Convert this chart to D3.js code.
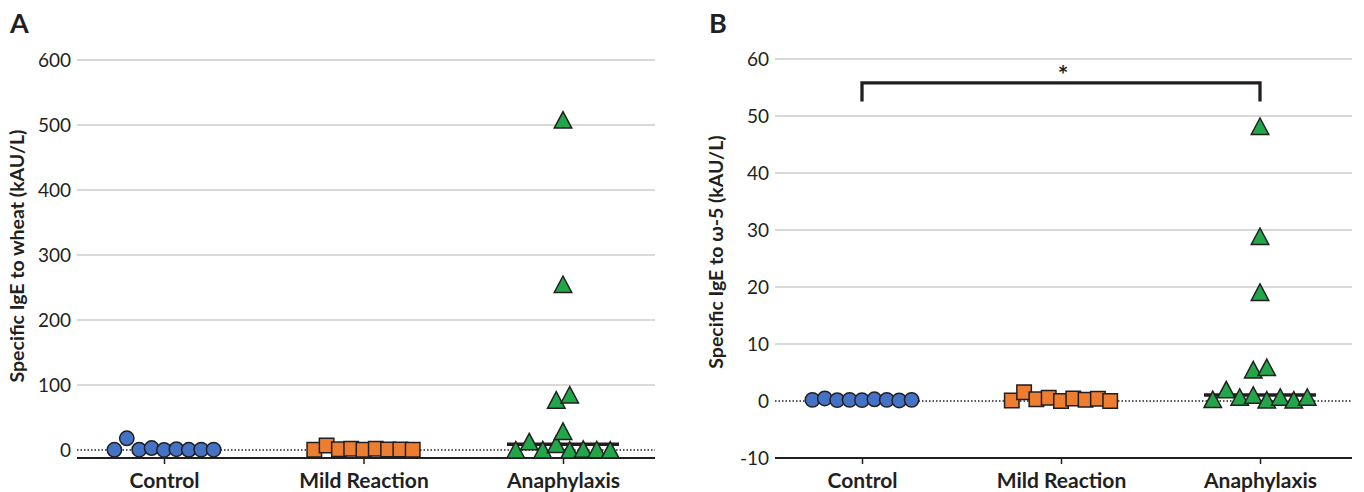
<!DOCTYPE html>
<html>
<head>
<meta charset="utf-8">
<script src="https://cdn.jsdelivr.net/npm/d3@7"></script>
<style>
  html, body { margin: 0; padding: 0; background: #ffffff; }
  svg { display: block; }
  text { font-family: Lato, "Open Sans", sans-serif; fill: #231f20; }
</style>
</head>
<body>
<svg id="chart" width="1364" height="492"></svg>
<script>
// ---------------- DATA ----------------
const categories = ["Control", "Mild Reaction", "Anaphylaxis"];

// Panel A: specific IgE to wheat (kAU/L), listed left-to-right as plotted
const wheatControl = [0.3, 18, 0.4, 3, 0.1, 1.2, 0.3, 0.6, 0.5];
const wheatMild    = [0.5, 7, 1, 2, 0.2, 2, 0.8, 0.6, 0.4];
const wheatAnaph   = [0.4, 13, 0.5, 9, 77, 508, 255, 29, 0.2, 85, 1.5, 0.8, 0.3];
const wheatTicks   = [0, 100, 200, 300, 400, 500, 600];

// Panel B: specific IgE to omega-5 gliadin (kAU/L)
const omegaControl = [0.2, 0.45, 0.15, 0.2, 0.15, 0.3, 0.2, 0.1, 0.2];
const omegaMild    = [0.1, 1.55, 0.3, 0.55, 0, 0.45, 0.2, 0.4, 0];
const omegaAnaph   = [0.3, 2.0, 0.7, 1.05, 5.5, 48.2, 28.9, 19.1, 0.2, 5.9, 0.7, 0.2, 0.7];
const omegaTicks   = [-10, 0, 10, 20, 30, 40, 50, 60];

// significance annotation on panel B
const omegaSignif = [{ from: "Control", to: "Anaphylaxis", label: "*", level: 55.8 }];

// ---------------- LAYOUT / STYLE ----------------
const colors = { "Control": "#4472c4", "Mild Reaction": "#ed7d31", "Anaphylaxis": "#22a64a" };
const ink = "#231f20";

const panels = [
  {
    letter: "A", letterX: 10,
    title: "Specific IgE to wheat (kAU/L)", titleX: 24, titleY: 256,
    x0: 77, x1: 655, yMin: -12.3, yMax: 600, yTop: 60, yBot: 458,
    ticks: wheatTicks,
    series: [wheatControl, wheatMild, wheatAnaph],
    signif: []
  },
  {
    letter: "B", letterX: 709,
    title: "Specific IgE to \u03c9-5 (kAU/L)", titleX: 723, titleY: 252,
    x0: 775, x1: 1352, yMin: -10, yMax: 60, yTop: 59, yBot: 458,
    ticks: omegaTicks,
    series: [omegaControl, omegaMild, omegaAnaph],
    signif: omegaSignif
  }
];

const svg = d3.select("#chart");

// marker shape generators (centered at 0,0)
function markerPath(cat) {
  if (cat === "Control") {
    const r = 7.2;
    return `M${-r},0A${r},${r} 0 1,0 ${r},0A${r},${r} 0 1,0 ${-r},0Z`;
  } else if (cat === "Mild Reaction") {
    const s = 14.5 / 2;
    return `M${-s},${-s}H${s}V${s}H${-s}Z`;
  } else {
    const w = 17.5 / 2, h = 16.5 / 2;
    return `M0,${-h}L${w},${h}L${-w},${h}Z`;
  }
}
const spacing = { "Control": 12.4, "Mild Reaction": 12.3, "Anaphylaxis": 13.5 };

// Prism-like column scatter: points whose pixel heights are close share a row,
// each row is spread symmetrically around the category position.
function columnScatter(values, y, step, threshold) {
  const items = values.map((v, i) => ({ v, i, py: y(v) }));
  const sorted = items.slice().sort((a, b) => b.py - a.py);
  const rows = [];
  let cur = null;
  sorted.forEach(it => {
    if (cur && cur.base - it.py <= threshold) cur.items.push(it);
    else { cur = { base: it.py, items: [it] }; rows.push(cur); }
  });
  rows.forEach(row => {
    row.items.sort((a, b) => a.i - b.i);
    const n = row.items.length;
    row.items.forEach((it, k) => { it.dx = (k - (n - 1) / 2) * step; });
  });
  return items;
}

panels.forEach(p => {
  const g = svg.append("g");
  const x = d3.scalePoint().domain(categories).range([p.x0 + 87, p.x1 - 92]);
  const y = d3.scaleLinear().domain([p.yMin, p.yMax]).range([p.yBot, p.yTop]);

  // panel letter
  g.append("text").attr("x", p.letterX).attr("y", 33)
    .attr("font-size", 27).attr("font-weight", 700).text(p.letter);

  // y axis title
  g.append("text")
    .attr("transform", `translate(${p.titleX},${p.titleY}) rotate(-90)`)
    .attr("text-anchor", "middle").attr("font-size", 19.5).attr("font-weight", 700)
    .text(p.title);

  // gridlines (above zero), zero dotted line
  const gridTicks = p.ticks.filter(t => t > 0);
  g.append("g").selectAll("line").data(gridTicks).join("line")
    .attr("x1", p.x0).attr("x2", p.x1)
    .attr("y1", d => y(d)).attr("y2", d => y(d))
    .attr("stroke", "#d9d9d9").attr("stroke-width", 2);

  g.append("line")
    .attr("x1", p.x0).attr("x2", p.x1).attr("y1", y(0)).attr("y2", y(0))
    .attr("stroke", ink).attr("stroke-width", 1.3).attr("stroke-dasharray", "1.5,2");

  // y tick labels via d3 axis
  const yAxis = d3.axisLeft(y).tickValues(p.ticks).tickSize(0).tickPadding(6)
    .tickFormat(d => d < 0 ? "-" + Math.abs(d) : String(d));
  const ya = g.append("g").attr("transform", `translate(${p.x0},0)`).call(yAxis);
  ya.select(".domain").remove();
  ya.selectAll("text").attr("font-size", 19).attr("font-family", "Lato, sans-serif")
    .attr("fill", ink);

  // bottom axis with category ticks
  const xAxis = d3.axisBottom(x).tickSize(6).tickPadding(9).tickSizeOuter(0);
  const xa = g.append("g").attr("transform", `translate(0,${p.yBot})`).call(xAxis);
  xa.select(".domain").remove();
  xa.append("line").attr("x1", p.x0).attr("x2", p.x1).attr("y1", 0).attr("y2", 0)
    .attr("stroke", ink).attr("stroke-width", 2);
  xa.selectAll(".tick line").attr("stroke", ink).attr("stroke-width", 1.5);
  xa.selectAll("text").attr("font-size", 21).attr("font-weight", 700)
    .attr("font-family", "Lato, sans-serif").attr("fill", ink);

  // median bar for the anaphylaxis group
  const anaph = p.series[2];
  const med = d3.median(anaph);
  g.append("line")
    .attr("x1", x("Anaphylaxis") - 56).attr("x2", x("Anaphylaxis") + 56)
    .attr("y1", y(med)).attr("y2", y(med))
    .attr("stroke", ink).attr("stroke-width", 3.5);

  // points
  categories.forEach((cat, ci) => {
    const pts = columnScatter(p.series[ci], y, spacing[cat], 15);
    g.append("g").selectAll("path").data(pts).join("path")
      .attr("d", markerPath(cat))
      .attr("transform", d => `translate(${x(cat) + d.dx},${d.py})`)
      .attr("fill", colors[cat]).attr("stroke", ink).attr("stroke-width", 1.5)
      .attr("stroke-linejoin", "miter");
  });

  // significance brackets
  p.signif.forEach(s => {
    const yb = y(s.level);
    const xa1 = x(s.from), xa2 = x(s.to);
    g.append("path")
      .attr("d", `M${xa1},${yb + 18.5}V${yb}H${xa2}V${yb + 18.5}`)
      .attr("fill", "none").attr("stroke", ink).attr("stroke-width", 3.3)
      .attr("stroke-linejoin", "miter");
    g.append("text").attr("x", (xa1 + xa2) / 2 + 2).attr("y", yb + 1)
      .attr("text-anchor", "middle").attr("font-size", 25).attr("font-weight", 700)
      .text(s.label);
  });
});
</script>
</body>
</html>
